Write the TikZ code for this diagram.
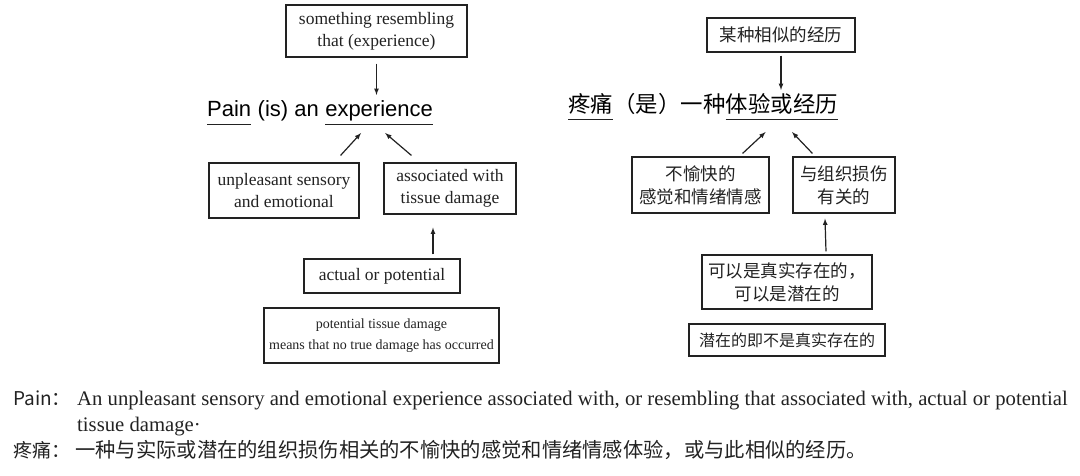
\documentclass[tikz,border=0pt]{standalone}
\usepackage{fontspec}
\setmainfont{Liberation Serif}
\newfontfamily\arialfont{Liberation Sans}
\newfontfamily\cjk{Noto Sans CJK SC}
\usetikzlibrary{arrows}
\definecolor{ink}{HTML}{222222}

\begin{document}
\begin{tikzpicture}[x=1pt,y=1pt,
    enbox/.style={draw=ink,line width=1.1pt,inner sep=0pt,align=center,text=ink,font=\fontsize{17.5}{22}\selectfont},
    zhbox/.style={enbox,font=\cjk\fontsize{17.5}{23}\selectfont},
    entitle/.style={inner sep=0pt,anchor=base west,text=black,font=\arialfont\fontsize{22}{26}\selectfont},
    zhtitle/.style={inner sep=0pt,anchor=base west,text=black,font=\cjk\fontsize{22.4}{26}\selectfont},
    deftext/.style={inner sep=0pt,anchor=base west,text=ink,font=\fontsize{20.7}{25}\selectfont},
    arr/.style={-latex,line width=1.2pt,draw=ink},
    uline/.style={line width=1pt,draw=ink}]
\useasboundingbox (0,0) rectangle (1080,-476);

\node[enbox,minimum width=181pt,minimum height=52pt] (simL) at (376.5,-31) {something resembling\\that (experience)};
\node[entitle] (painL) at (207,-117) {Pain};
\node[entitle] (isL) at (painL.base east) {\ (is) an};
\node[entitle] (expL) at ([xshift=6pt]isL.base east) {experience};
\draw[uline] ([yshift=-8pt]painL.base west) -- ([yshift=-8pt]painL.base east);
\draw[uline] ([yshift=-8pt]expL.base west) -- ([yshift=-8pt]expL.base east);
\node[enbox,minimum width=150pt,minimum height=55pt] (unpL) at (284,-190.5) {unpleasant sensory\\and emotional};
\node[enbox,minimum width=132pt,minimum height=51pt] (assL) at (450,-188.5) {associated with\\tissue damage};
\node[enbox,minimum width=156pt,minimum height=34pt] (actL) at (382,-276) {actual or potential};
\node[enbox,minimum width=235pt,minimum height=55pt,font=\fontsize{14}{21}\selectfont] (potL) at (381.5,-335.5) {potential tissue damage\\means that no true damage has occurred};

\draw[arr] ([yshift=-6pt]simL.south) -- ([yshift=22pt]simL.south |- expL.base);
\draw[arr] ([shift={(-19,7)}]unpL.north east) -- ([shift={(36,-16)}]expL.base west);
\draw[arr] ([shift={(28,7)}]assL.north west) -- ([shift={(-48,-16)}]expL.base east);
\draw[arr] ([shift={(51,4)}]actL.north) -- ([shift={(-17,-13)}]assL.south);

\node[zhbox,minimum width=148pt,minimum height=34pt] (simR) at (781,-35) {某种相似的经历};
\node[zhtitle] (painR) at (568,-113) {疼痛};
\node[zhtitle] (isR) at (painR.base east) {（是）一种};
\node[zhtitle] (expR) at (isR.base east) {体验或经历};
\draw[uline] ([yshift=-7pt]painR.base west) -- ([yshift=-7pt]painR.base east);
\draw[uline] ([yshift=-7pt]expR.base west) -- ([yshift=-7pt]expR.base east);
\node[zhbox,minimum width=137pt,minimum height=56pt] (unpR) at (700.5,-185) {不愉快的\\感觉和情绪情感};
\node[zhbox,minimum width=102pt,minimum height=56pt] (assR) at (844,-185) {与组织损伤\\有关的};
\node[zhbox,minimum width=170pt,minimum height=54pt] (actR) at (787,-282) {可以是真实存在的，\\可以是潜在的};
\node[zhbox,minimum width=196pt,minimum height=32pt,font=\cjk\fontsize{16}{20}\selectfont] (potR) at (787,-340) {潜在的即不是真实存在的};

\draw[arr] ([yshift=-3pt]simR.south) -- ([yshift=23pt]simR.south |- expR.base);
\draw[arr] ([shift={(-27,3)}]unpR.north east) -- ([shift={(40,-19)}]expR.base west);
\draw[arr] ([shift={(20,3)}]assR.north west) -- ([shift={(-46,-19)}]expR.base east);
\draw[arr] ([shift={(39,3)}]actR.north) -- ([shift={(-19,-5)}]assR.south);

\node[deftext,font=\cjk\fontsize{19}{24}\selectfont] (defL) at (13,-405) {Pain：};
\node[deftext] (defEn) at (77,-405) {An unpleasant sensory and emotional experience associated with, or resembling that associated with, actual or potential};
\node[deftext] (defEnB) at (defEn.base west) [yshift=-26pt] {tissue damage·};
\node[deftext,font=\cjk\fontsize{19}{24}\selectfont] (defZhL) at (13,-457) {疼痛：};
\node[deftext,font=\cjk\fontsize{20.3}{24}\selectfont] (defZh) at (75,-457) {一种与实际或潜在的组织损伤相关的不愉快的感觉和情绪情感体验，或与此相似的经历。};
\end{tikzpicture}
\end{document}
